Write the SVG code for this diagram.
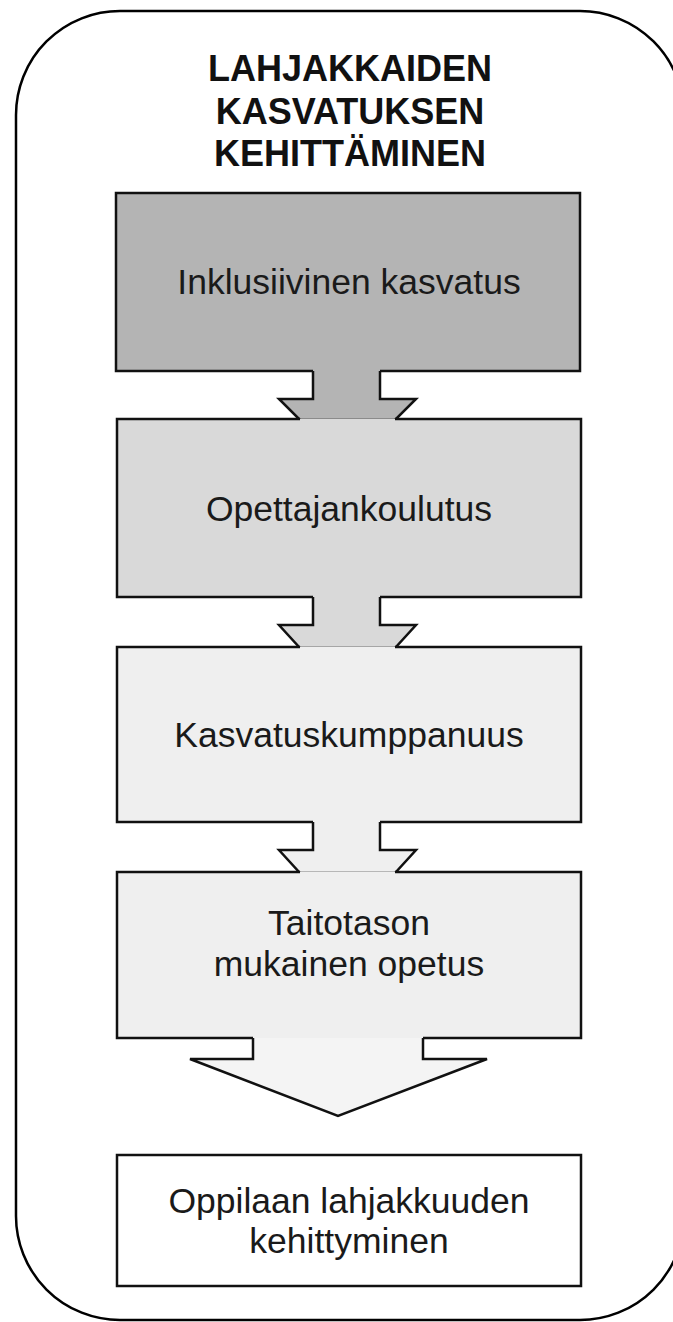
<svg xmlns="http://www.w3.org/2000/svg" width="673" height="1322" viewBox="0 0 673 1322">
<style>
.frame{fill:#ffffff;stroke:#000;stroke-width:2.5}
.box{stroke:#111;stroke-width:2.5;stroke-linejoin:miter}
.edge{fill:none;stroke:#111;stroke-width:2.5;stroke-linejoin:miter}
.arrow{stroke:#111;stroke-width:2.5;stroke-linejoin:miter}
.title{font-family:"Liberation Sans",Arial,sans-serif;font-weight:bold;font-size:36px;fill:#111;text-anchor:middle}
.lbl{font-family:"Liberation Sans",Arial,sans-serif;font-size:35.5px;fill:#1a1a1a;text-anchor:middle}
</style>
<rect width="673" height="1322" fill="#ffffff"/>
<g id="frame">
<rect class="frame" x="16" y="11" width="668" height="1309" rx="104" ry="104"/>
</g>
<g id="title">
<text class="title" x="350" y="81">LAHJAKKAIDEN</text>
<text class="title" x="350" y="124">KASVATUKSEN</text>
<text class="title" x="350" y="166">KEHITTÄMINEN</text>
</g>
<g id="connectors">
<path class="arrow" fill="#b4b4b4" d="M313,370 V399 H279 L300,420 H395 L416,399 H380 V370"/>
<path class="arrow" fill="#d9d9d9" d="M313,596 V625 H279 L300,648 H395 L416,625 H380 V596"/>
<path class="arrow" fill="#efefef" d="M313,821 V850 H279 L300,873 H395 L416,850 H380 V821"/>
<path class="arrow" fill="#f4f4f4" d="M253,1037 V1059 H190 L338,1116 L487,1059 H423 V1037"/>
</g>
<g id="node1">
<rect x="116" y="193" width="464" height="178" fill="#b4b4b4" stroke="none"/>
<path class="edge" d="M313,371 H116 V193 H580 V371 H380"/>
<text class="lbl" x="349" y="294">Inklusiivinen kasvatus</text>
</g>
<g id="node2">
<rect x="117" y="419" width="464" height="178" fill="#d9d9d9" stroke="none"/>
<path class="edge" d="M313,597 H117 V419 H300 M395,419 H581 V597 H380"/>
<text class="lbl" x="349" y="521">Opettajankoulutus</text>
</g>
<g id="node3">
<rect x="117" y="647" width="464" height="175" fill="#efefef" stroke="none"/>
<path class="edge" d="M313,822 H117 V647 H300 M395,647 H581 V822 H380"/>
<text class="lbl" x="349" y="747">Kasvatuskumppanuus</text>
</g>
<g id="node4">
<rect x="117" y="872" width="464" height="166" fill="#efefef" stroke="none"/>
<path class="edge" d="M253,1038 H117 V872 H300 M395,872 H581 V1038 H423"/>
<text class="lbl" x="349" y="935">Taitotason</text>
<text class="lbl" x="349" y="976">mukainen opetus</text>
</g>
<g id="node5">
<rect class="box" x="117" y="1155" width="464" height="131" fill="#ffffff"/>
<text class="lbl" x="349" y="1213">Oppilaan lahjakkuuden</text>
<text class="lbl" x="349" y="1253">kehittyminen</text>
</g>
</svg>
